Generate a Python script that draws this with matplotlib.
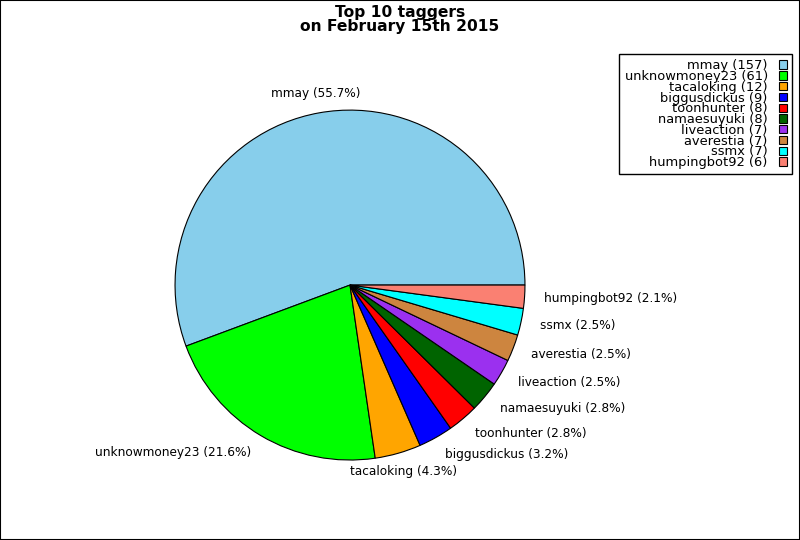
import numpy as np
import matplotlib
matplotlib.use('Agg')
from matplotlib import pyplot as plt
from matplotlib.patches import Rectangle

names = ['mmay', 'unknowmoney23', 'tacaloking', 'biggusdickus', 'toonhunter',
         'namaesuyuki', 'liveaction', 'averestia', 'ssmx', 'humpingbot92']
counts = [157, 61, 12, 9, 8, 8, 7, 7, 7, 6]
colors = ['skyblue', 'lime', 'orange', 'blue', 'red',
          'darkgreen', '#9b30ef', 'peru', 'cyan', 'salmon']

total = sum(counts)
pie_labels = ['%s (%.1f%%)' % (n, 100.0 * c / total) for n, c in zip(names, counts)]
legend_labels = ['%s (%d)' % (n, c) for n, c in zip(names, counts)]

fig = plt.figure(figsize=(8, 5.4), dpi=100)
ax = fig.add_axes([0.164, 0.0671, 0.547, 0.810])

wedges, texts = ax.pie(
    counts,
    labels=pie_labels,
    colors=colors,
    startangle=0,
    labeldistance=1.11,
    wedgeprops={'edgecolor': 'black', 'linewidth': 0.8},
    textprops={'fontsize': 8.7},
)
ax.set_aspect('equal')

# labels close to the vertical axis are centred, like the original
for w, t in zip(wedges, texts):
    ang = np.deg2rad((w.theta1 + w.theta2) / 2)
    if abs(np.cos(ang)) < 0.35:
        t.set_horizontalalignment('center')

fig.legend(
    wedges, legend_labels,
    loc='upper right',
    bbox_to_anchor=(0.99, 0.9),
    borderaxespad=0,
    markerfirst=False,
    fontsize=9.4,
    labelspacing=-0.17,
    handlelength=0.6,
    handleheight=0.6,
    handletextpad=0.85,
    borderpad=0.4,
    fancybox=False,
    framealpha=1,
    edgecolor='black',
)

fig.text(0.5, 0.99, 'Top 10 taggers\non February 15th 2015',
         ha='center', va='top', fontsize=11.2, fontweight='bold',
         linespacing=0.85)

fig.patches.append(Rectangle((0, 0), 1, 1, transform=fig.transFigure,
                             fill=False, edgecolor='black', linewidth=1.5))

plt.savefig('out.png', dpi=100)
